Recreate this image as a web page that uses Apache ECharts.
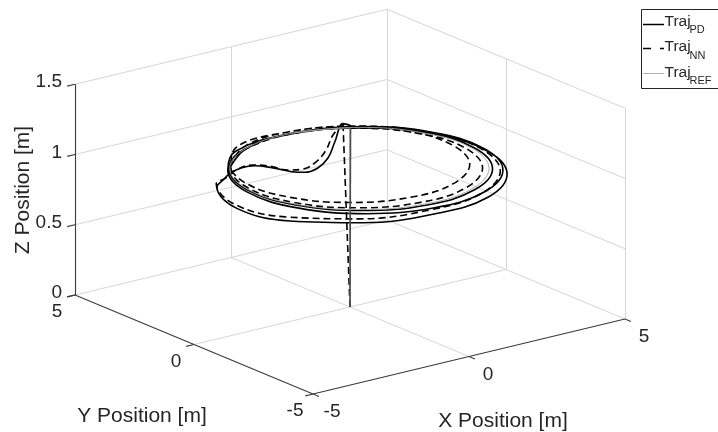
<!DOCTYPE html>
<html><head><meta charset="utf-8">
<script src="https://cdn.jsdelivr.net/npm/echarts@6.0.0/dist/echarts.min.js"></script>
<style>html,body{margin:0;padding:0;background:#fff;overflow:hidden}#c{width:718px;height:432px}</style>
</head><body><div id="c"></div>
<script>
// ---------- data ----------
const xTicks = [-5, 0, 5];
const yTicks = [-5, 0, 5];
const zTicks = [0, 0.5, 1, 1.5];
const xTickLabels = ['-5', '0', '5'];
const yTickLabels = ['-5', '0', '5'];
const zTickLabels = ['0', '0.5', '1', '1.5'];
const axisTitles = { x: 'X Position [m]', y: 'Y Position [m]', z: 'Z Position [m]' };
const legendMain = 'Traj';
const legendSubs = ['PD', 'NN', 'REF'];

// Trajectory PD (solid)
const pdX = [0, 2.15, 1.95, 1.11, 0.17, -0.52, -0.99, -1.23, -1.44, -1.69, -2.05, -2.56, -3.03,
  -2.87, -3.59, -3.33, -2.15, -0.37, 1.53, 3.03, 3.75, 3.49, 2.31, 0.53, -1.37,
  -2.46, -3.13, -2.88, -1.77, -0.09, 1.71, 3.14, 3.81, 3.56, 2.45, 0.77, -1.03,
  -2.37, -3.02, -2.77, -1.71, -0.10, 1.62, 2.99, 3.64, 3.39, 2.33, 0.72, -1.00, -2.37];
const pdY = [0, 2.80, 2.85, 2.09, 1.15, 0.67, 0.59, 0.83, 1.40, 1.78, 1.86, 1.68, 1.36,
  1.83, 0.05, -1.85, -3.35, -4.07, -3.81, -2.63, -0.85, 1.05, 2.56, 3.27, 3.01,
  1.91, 0.23, -1.57, -3.00, -3.67, -3.42, -2.31, -0.63, 1.17, 2.60, 3.27, 3.02,
  1.97, 0.36, -1.36, -2.73, -3.38, -3.13, -2.07, -0.46, 1.26, 2.63, 3.28, 3.03, 1.97];
const pdZ = [0, 0.98, 1.00, 0.97, 0.97, 0.97, 0.97, 0.97, 0.97, 0.97, 0.97, 0.97, 0.97,
  0.88, 0.89, 0.92, 0.95, 0.97, 0.97, 0.97, 0.97, 0.97, 0.97, 0.97, 0.97,
  0.97, 0.97, 0.97, 0.97, 0.97, 0.97, 0.97, 0.97, 0.97, 0.97, 0.97, 0.97,
  0.97, 0.97, 0.97, 0.97, 0.97, 0.97, 0.97, 0.97, 0.97, 0.97, 0.97, 0.97, 0.97];

// Trajectory NN (dashed)
const nnX = [0, 1.95, 1.40, 0.52, -0.27, -0.87, -1.23, -1.40, -1.71, -2.28, -2.88,
  -2.74, -3.44, -3.18, -2.03, -0.29, 1.56, 3.04, 3.74, 3.48, 2.33, 0.59, -1.26,
  -2.29, -2.91, -2.68, -1.66, -0.12, 1.52, 2.83, 3.45, 3.22, 2.20, 0.66, -0.98,
  -2.14, -2.73, -2.51, -1.54, -0.07, 1.49, 2.74, 3.33, 3.11, 2.14, 0.67, -0.89, -2.14];
const nnY = [0, 2.85, 2.55, 1.69, 1.08, 0.83, 1.00, 1.53, 1.87, 1.80, 1.44,
  2.03, 0.29, -1.56, -3.04, -3.74, -3.48, -2.33, -0.59, 1.26, 2.74, 3.44, 3.18,
  2.00, 0.46, -1.18, -2.49, -3.11, -2.88, -1.86, -0.32, 1.32, 2.63, 3.25, 3.02,
  2.24, 0.77, -0.79, -2.04, -2.63, -2.41, -1.44, 0.03, 1.59, 2.84, 3.43, 3.21, 2.24];
const nnZ = [0, 1.00, 0.97, 0.97, 0.97, 0.97, 0.97, 0.97, 0.97, 0.97, 0.97,
  0.88, 0.89, 0.92, 0.95, 0.97, 0.97, 0.97, 0.97, 0.97, 0.97, 0.97, 0.97,
  0.97, 0.97, 0.97, 0.97, 0.97, 0.97, 0.97, 0.97, 0.97, 0.97, 0.97, 0.97,
  0.97, 0.97, 0.97, 0.97, 0.97, 0.97, 0.97, 0.97, 0.97, 0.97, 0.97, 0.97, 0.97];

// Reference trajectory (thin grey)
const refX = [0, 2.10, 0.70, -0.99, -2.34, -2.98, -2.74, -1.69, -0.10, 1.59, 2.94, 3.58, 3.34, 2.29, 0.70];
const refY = [0, 2.75, 3.28, 3.04, 1.99, 0.40, -1.29, -2.64, -3.28, -3.04, -1.99, -0.40, 1.29, 2.64, 3.28];
const refZ = [0, 0.97, 0.97, 0.97, 0.97, 0.97, 0.97, 0.97, 0.97, 0.97, 0.97, 0.97, 0.97, 0.97, 0.97];

// ---------- 3D view (orthographic, MATLAB default az/el) ----------
const VIEW = { ox: 350, oy: 307, ex: [31.2, -7.5], ey: [-23.8, -9.9], ez: 140.5 };
const LIM = { x: [-5, 5], y: [-5, 5], z: [0, 1.5] };
function proj(x, y, z) {
  return [VIEW.ox + x * VIEW.ex[0] + y * VIEW.ey[0],
          VIEW.oy + x * VIEW.ex[1] + y * VIEW.ey[1] - z * VIEW.ez];
}
function path(X, Y, Z, from, to) {
  const out = [];
  for (let i = from; i <= to; i++) out.push(proj(X[i], Y[i], Z[i]));
  return out;
}
function seg(a, b) { return { coords: [proj(a[0], a[1], a[2]), proj(b[0], b[1], b[2])] }; }

const [x0, x1] = LIM.x, [y0, y1] = LIM.y, [z0, z1] = LIM.z;
const gridSegs = [];
xTicks.forEach(v => { if (v !== x0) gridSegs.push(seg([v, y0, z0], [v, y1, z0])); });
yTicks.forEach(v => { if (v !== y0) gridSegs.push(seg([x0, v, z0], [x1, v, z0])); });
xTicks.forEach(v => { if (v !== x0) gridSegs.push(seg([v, y1, z0], [v, y1, z1])); });
zTicks.forEach(v => { if (v !== z0) gridSegs.push(seg([x0, y1, v], [x1, y1, v])); });
yTicks.forEach(v => { if (v !== y1) gridSegs.push(seg([x1, v, z0], [x1, v, z1])); });
zTicks.forEach(v => { if (v !== z0) gridSegs.push(seg([x1, y0, v], [x1, y1, v])); });

const axisSegs = [
  seg([x0, y1, z0], [x0, y1, z1]),
  seg([x0, y1, z0], [x0, y0, z0]),
  seg([x0, y0, z0], [x1, y0, z0])
];
const tk = 0.25;
zTicks.forEach(v => axisSegs.push(seg([x0, y1, v], [x0 - tk, y1, v])));
yTicks.forEach(v => axisSegs.push(seg([x0, v, z0], [x0 - tk, v, z0])));
xTicks.forEach(v => axisSegs.push(seg([v, y0, z0], [v, y0 - tk, z0])));

const TXT = '#262626';
const FONT = '"Liberation Sans", Arial, Helvetica, sans-serif';
const graphics = [];
zTicks.forEach((v, i) => {
  const p = proj(x0, y1, v);
  graphics.push({ type: 'text', x: p[0] - 13, y: p[1] - 2,
    style: { text: zTickLabels[i], fill: TXT, font: '19px ' + FONT, align: 'right', verticalAlign: 'middle' } });
});
yTicks.forEach((v, i) => {
  const p = proj(x0, v, z0);
  graphics.push({ type: 'text', x: p[0] - 18, y: p[1] + 17,
    style: { text: yTickLabels[i], fill: TXT, font: '19px ' + FONT, align: 'center', verticalAlign: 'middle' } });
});
xTicks.forEach((v, i) => {
  const p = proj(v, y0, z0);
  graphics.push({ type: 'text', x: p[0] + 19, y: p[1] + 18,
    style: { text: xTickLabels[i], fill: TXT, font: '19px ' + FONT, align: 'center', verticalAlign: 'middle' } });
});
graphics.push({ type: 'text', x: 503, y: 421, style: { text: axisTitles.x, fill: TXT, font: '21px ' + FONT, align: 'center', verticalAlign: 'middle' } });
graphics.push({ type: 'text', x: 142, y: 416, style: { text: axisTitles.y, fill: TXT, font: '21px ' + FONT, align: 'center', verticalAlign: 'middle' } });
graphics.push({ type: 'text', x: 23, y: 190, rotation: Math.PI / 2,
  style: { text: axisTitles.z, fill: TXT, font: '21px ' + FONT, align: 'center', verticalAlign: 'middle' } });

// legend: box is cut off by the right edge in the reference, so no right border
const LB = { l: 641.5, t: 9.5, b: 88.5, r: 760 };
const legendFrame = [
  { coords: [[LB.l, LB.t], [LB.r, LB.t]] },
  { coords: [[LB.l, LB.t], [LB.l, LB.b]] },
  { coords: [[LB.l, LB.b], [LB.r, LB.b]] }
];
const legRows = [21.5, 47, 72.5];
const legLineY = [24, 48, 73];
const legStyles = [
  { stroke: '#000', lineWidth: 1.5 },
  { stroke: '#000', lineWidth: 1.5, lineDash: [8, 9] },
  { stroke: '#b0b0b0', lineWidth: 1 }
];
legRows.forEach((ry, i) => {
  graphics.push({ type: 'line', shape: { x1: 643, y1: legLineY[i] + 0.5, x2: 664, y2: legLineY[i] + 0.5 }, style: legStyles[i], z: 11 });
  graphics.push({ type: 'text', x: 664.5, y: ry, z: 11,
    style: { text: legendMain, fill: TXT, font: '15.5px ' + FONT, align: 'left', verticalAlign: 'middle' } });
  graphics.push({ type: 'text', x: 689.5, y: ry + 8.5, z: 11,
    style: { text: legendSubs[i], fill: TXT, font: '11px ' + FONT, align: 'left', verticalAlign: 'middle' } });
});

function trajSeries(X, Y, Z, style, climbEnd) {
  return [
    { type: 'line', data: path(X, Y, Z, 0, climbEnd), symbol: 'none', smooth: false, lineStyle: style, silent: true, clip: false, z: 3 },
    { type: 'line', data: path(X, Y, Z, climbEnd, X.length - 1), symbol: 'none', smooth: 0.4, lineStyle: style, silent: true, clip: false, z: 3 }
  ];
}

const chart = echarts.init(document.getElementById('c'), null, { renderer: 'canvas' });
chart.setOption({
  animation: false,
  backgroundColor: '#fff',
  grid: { left: 0, right: 0, top: 0, bottom: 0 },
  xAxis: { type: 'value', min: 0, max: 718, show: false },
  yAxis: { type: 'value', min: 0, max: 432, inverse: true, show: false },
  series: [
    { type: 'lines', coordinateSystem: 'cartesian2d', data: gridSegs, silent: true,
      lineStyle: { color: '#d6d6d6', width: 1, opacity: 1 }, z: 1 },
    { type: 'lines', coordinateSystem: 'cartesian2d', data: axisSegs, silent: true,
      lineStyle: { color: '#3a3a3a', width: 1.1, opacity: 1 }, z: 2 },
    ...trajSeries(pdX, pdY, pdZ, { color: '#000', width: 1.6 }, 1),
    ...trajSeries(nnX, nnY, nnZ, { color: '#000', width: 1.6, type: [7, 4] }, 1),
    ...trajSeries(refX, refY, refZ, { color: '#a0a0a0', width: 0.9 }, 1),
    { type: 'lines', coordinateSystem: 'cartesian2d', data: legendFrame, silent: true, clip: true,
      lineStyle: { color: TXT, width: 1, opacity: 1 }, z: 10 }
  ],
  graphic: graphics
});
</script>
</body></html>
